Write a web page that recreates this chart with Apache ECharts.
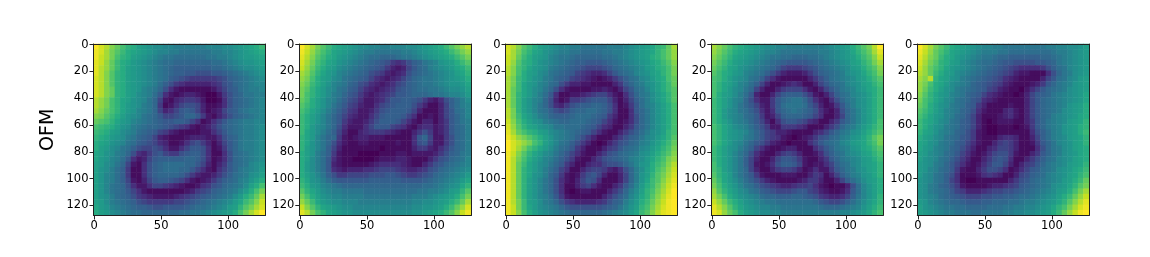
<!DOCTYPE html>
<html><head><meta charset="utf-8">
<style>html,body{margin:0;padding:0;background:#fff}#c{width:1150px;height:257px}</style>
<script src="https://cdn.jsdelivr.net/npm/echarts@6/dist/echarts.min.js"></script>
</head><body><div id="c"></div>
<script>
// Values: one row per 4 image pixels, each char a base-36 level (0 dark .. z bright).
const panel1 = [
"zwurpnlkihgffeeddddddeeeffghijkm","ywtqomkjihgfeeddccccccddeefghijk","yvtqnlkihgfedccbbbbbbccddefghhij","xvspmkjhgfedcbbaaaaaaabbcdefgghi",
"xuspmkihgfedcba9999999aabcdeffgh","xurolkihgf edcba99887 778 89abcde fg","wurolkihgf edcb987655 5556 79abcd ef","wurolkihgf edb9754333 33457 8abcd ee",
"wurplkihge dca7421111 112468 9bcd de","wurplkihfe db84212332 100257 9acc dd","usqnljigfe ca62134554 200147 9abc de","usqnljhgfd ca51246776 311247 9abc de",
"trpnljhged ca63468986 312368 9bcd de","rqomkigfec ba86678aa8 521357 9abcd ee","ponljhgedc ba98899864 124 68abcd de","nmlkigfdcb aa98765421 2357 9abcd def",
"mlkihfedba 9865321111 22468abcd def","lkjhgfdca9 8632111233 32247 9acd def","kjigfecb98 7643112467 531368acd def","kihfecb976 6764224688 741258acd def",
"jigfdca743 5786557899 741147abcdef","jhgedb8423 6899999aa9 741247abcdef","ihfeca6214 79abbbbaa8 631358abcefg","igfdb95114 79abbbaa86 421468acdefh",
"igedb95114 79aaaa9753 223579bcdfgi","igedb96213 6899876421 23579abdegik","igecba7422 4665432112 4578abcdfikn","igecba8642 1111111235 679abcdfhknq",
"igfdba9754 3222234567 89abcdfhkmpt","ihfdcba976 5555566789 abcdefhjmorv","jhgedcba99 8778888 9ab bcdefhiloqtw","kihfedcbba aaaaaabbcc defghiknqtwz"];
const panel2 = [
"zwtqomkjih gffeeddeee ffghijkmoq su","yvspnljihg feddcccccd defghijkmo qs","xuromkjhgf edcbbaaabc cdefghijkm oq","wtqnljigfe dcba987545 79acdeghik mo",
"vspmkihfed cba9875323 68abdefghj km","troljhgedc ba97653234 79abcdefgi jl","sqnkihfecb a986432346 8abccdefgh ik","rpmkigedca 9764323467 9abccdefgg hj",
"qoljhfecb9 8643234578 9abbccdeff gi","qnljhfdca8 7532345688 9aaabccdee fh","pnkigedb97 6422346889 9875324 79b df","omkigeca86 5322467899 9753113 69b de",
"nljhfdb975 4223578999 8631113 68b ce","mkigeca864 3224689998 6411213 68a ce","mkigeca853 2235799986 4213313 58a cd","mkhfeca742 2246888654 2134423 58a bd",
"mjhfdb9631 1345554321 1357523 58a bd","ljhecaa521 2332221111 148a622 57a bd","ljgeca7421 1221111121 1478522 57a bd","ligec96311 1111101111 1355324 68a bd",
"kigdb95211 1000011122 1222235 79a cd","kifdb84211 0000122233 2111357 8ab ce","khfdb83211 1112344443 2113578 abc de","khfdb84323 3344566654 3345 78abcd ef",
"kigec97556 6667778876 55678abcde fh","ljgfdb9888 8889999998 888 9abcdef hj","mkhgedcbaa aaaaaaaaaa aaabbcdefg jl","oljhfeddcc ccbbbbbbbb bbccddefhi lo",
"qnkigfeedd ddcccccccc cdddefghik nq","spmjhgffee edddddddd d deeffghikm pt","vroljihgff eeeeeeeeee effgghikmp sw","xuqnljihgg ffffffffff fgghijkmor vy"];
const panel3 = [
"wuromkihgf eeddcccccd ddefghijlm pt","wtqnljigfe ddccbbbbcc ddefghijln ps","vtpmkihged ccbaaaaabb cdefghikln ps","vsolkigfed cba9988 89a bcdefghjkm or",
"urnljhgfdc ba98766678 abcdefhikl nq","urnkihfecb a986543346 8abcefgijl nq","tqmkigfdca 9865432123 579bcefhjk np","tqmjhgedba 7533221111 358acdfgik mp",
"tpmjhfeca7 4211112232 1368bcegik mo","tpljhfdb84 1122345664 2147acdfhj lo","tpligeda73 1255678886 3136 9bdfhj lo","tpligeca74 3578 99aa97 4125 8bdegi kn",
"uqligecb97 679aabba97 4114 8aceg ikn","uqmjhfdca9 99abbba985 3114 7aceg ikn","vrnkigfdcb aabbba9864 2124 7aceg ikn","wsoljigfec cbbba98643 1135 8aceg ikn",
"xtpnlkihfe dcba986421 1357 9bdfg iln","yvsqomkige dcb9753111 3579 acefh jlo","zwusqnlige cb97531013 578a bdegik mp","zwtqnljhfd ba85311135 68ab cefhjl nq",
"yvroljhfec a864211357 8abc dfgikm or","yuqnkigedb 9752113578 9abd efhjln qs","yupmjhfeca 8531134467 78ac eghkmo ru","yupljhfdb9 6411356653 247a dfiknp sv",
"yupljgfda8 5212578631 136a dgilo qtw","yupligeca7 4213687411 136a dgjmo rux","yupligeca7 4113564211 358b ehkmp svy","yupligeca7 4101221113 57ad filnq twz",
"yupligedb8 5211111135 79be gjlor uxz","yuqmihfdca 7543333457 9adf hkmps vyz","yvqmjhfedc a877777789 aceg ilnqt wyz","yvrnkigfed cbaaaaaabc defh jmoru xyz"];
const panel4 = [
"trpnlkjihg ffeedddddd defghikmoq uz","sqomkjihgf eedccccccc ddefghjlnp tx","rpnljihgfe dccbbaaabb cdefghikmo rv","qomkihgfed cba9888 89a bcdefgijln qt",
"pnljigfedc ba86555678 abcdefhikm or","omkjhgedcb 9753222357 9abcdfghjl nq","nmkigfecb9 6421111135 79bcdefhik mo","nljigedb96 3112343113 68abcefgij ln",
"nljhfeca63 1135666421 368acdeghj km","nkihfdb831 1368999752 1369bcefgi km","mkigeda742 258abcca74 2147acdfgi km","mkigeca863 258bcccb86 3125 8bdfgi km",
"mkhfecb974 248abcba97 4213 7aceg ikm","mkhfedba85 2369aaa986 4113 6aceg ikm","mkigedca86 3147887643 1135 8aceg ikn","nljhfedb97 5225554311 1357 acdfhj ln",
"nljhgfeca8 6533211113 4 68acdfgik mo","nljhgfdca8 6542101235 78abdeghjl oq","nljhfeca87 5321011146 8abcefhijl nq","mkigfdb964 2112331114 68acdegh jk mo",
"mkigeca742 1135653112 479bcefgij ln","mkigec9631 1368875211 358acdefhi km","nkigec9621 2479986212 2469bcefhi jl","nligeca631 1356653124 2258acdfgi jl",
"oljheca852 1112221135 4136 9bdegh jl","pmjhfdb975 3211112355 3113 69bdfh ik","qnkigecb97 6543345564 2101 137beg ik","soljhfecb9 8766678865 3211 248beg ik",
"tqnkigfedb aa999aa987 5433 469ceg il","vspmkigfed ccbbbbbbba 8766 79bdfh jl","xuroljhgfe eddccccccc baaa bcdegi km","ywspnkihgf feeddddddd dddd eefghj ln"];
const panel5 = [
"zwtqomkjih gfeeddcccc ccccddeeff gi","yvspnljihg fedddccbbb bbbbbcddef gh","xurpmkjhgf edccbaa999 999aabcdef gh","wtqolkihfe dcbba98877 77889acdef gh",
"vspnljhgfe dcba987654 444579bcef gh","uspmkihfed cba9876532 2111 47acdf gh","truljigfdc ba98764321 1113 68bcef hi","sqnkjhfedc a987653211 1235 8acdeg hi",
"spmkigfdcb a986532110 2468 abcdfg hi","roljhgedca 9864321101 3689 acdefg hj","qnljhfecba 8743211111 368a bcdefg hj","pnkigfdcb9 8531111211 368a bcdegh ik",
"omkigedca9 7421113421 368a bcdfgh ik","nljhgedba8 6311123421 368a bdefgh jk","mkjhfecb98 6310122211 358a cdefhi jl","mkigfdcb98 6310011101 258a cdeghi kl",
"ljigedca97 5210011111 1479 bdeghi km","kihfecba87 5211134431 1369 bdefhi jl","jigfdcb986 4211356531 1258 acefgi jl","jhgedca975 3113466531 1147 acdfgi jk",
"ihfedba864 2124677521 1358 acdfgh jk","igfecb9753 1135787411 3579 bcefgi jk","hgfdca8642 1246886313 568a cdefhi jl","hgedba8521 1357764124 689b cdfghj km",
"hfecb97411 1245431136 79ab defgij ln","gfecb96410 0111111357 8abc defhik mp","gfdca97521 1112334568 9abc dfghjl oq","gfdcba8653 3345667789 abcd efhikn qt",
"gfedba9876 6677889 9ab bcde fgikmp sv","hgedcbaa98 8899aaabbc dd ef ghjlor ux","igfedccbba aaabbbccdd eefg hjlnqt wy","ihgfeddccc bbccccddee ffgh ikmpsv yz"];
const panels = [panel1, panel2, panel3, panel4, panel5];
const xTicks = [0, 50, 100];
const yTicks = [0, 20, 40, 60, 80, 100, 120];
const yName = "OFM";
const viridis = ["#440154","#472e7c","#38588c","#2c728e","#21918c","#22a884","#48c16e","#86d549","#c8e020","#fde725"];

const lefts = [93.5, 299.3, 505.5, 711.3, 917.3];
const levels = "0123456789abcdefghijklmnopqrstuvwxyz";
const grid = [], xAxis = [], yAxis = [], series = [];
const cols = Array.from({length: 32}, (_, i) => String(i));
const lineStyle = {color: "#222", width: 1};
function decode(rows) {
  const out = [];
  rows.forEach((row, r) => {
    const chars = row.replace(/\s/g, "").split("").map(c => levels.indexOf(c.toLowerCase()));
    let last = 16;
    for (let c = 0; c < 32; c++) {
      if (chars[c] >= 0) last = chars[c];
      out.push([c, r, last]);
    }
  });
  return out;
}
function frameAxis(gridIndex, pos, ticks, extra) {
  return Object.assign({
    type: "value", gridIndex, position: pos, min: -0.5, max: 127.5, z: 5,
    splitLine: {show: false},
    axisLine: {show: true, onZero: false, lineStyle},
    axisTick: ticks ? {show: true, length: 4, customValues: ticks, lineStyle} : {show: false},
    axisLabel: ticks ? {show: true, customValues: ticks, color: "#000", fontSize: 11.5, margin: 5, fontFamily: "DejaVu Sans"} : {show: false}
  }, extra || {});
}
panels.forEach((rows, i) => {
  grid.push({left: lefts[i], top: 44, width: 171.5, height: 171.5, show: false});
  const base = xAxis.length;
  xAxis.push({type: "category", gridIndex: i, data: cols, show: false});
  xAxis.push(frameAxis(i, "bottom", xTicks));
  xAxis.push(frameAxis(i, "top", null));
  yAxis.push({type: "category", gridIndex: i, data: cols, inverse: true, show: false});
  yAxis.push(frameAxis(i, "left", yTicks, Object.assign({inverse: true}, i === 0 ? {
    name: yName, nameLocation: "middle", nameGap: 36, nameRotate: 90,
    nameTextStyle: {fontSize: 19, color: "#000", fontFamily: "DejaVu Sans"}} : {})));
  yAxis.push(frameAxis(i, "right", null, {inverse: true}));
  series.push({type: "heatmap", xAxisIndex: base, yAxisIndex: base, data: decode(rows), silent: true, progressive: 0, animation: false,
    itemStyle: {borderWidth: 0}, emphasis: {disabled: true}});
});
const chart = echarts.init(document.getElementById("c"), null, {renderer: "canvas"});
chart.setOption({
  animation: false, backgroundColor: "#fff", grid, xAxis, yAxis, series,
  visualMap: {show: false, type: "continuous", min: 0, max: 35, seriesIndex: [0,1,2,3,4], inRange: {color: viridis}}
});
</script></body></html>
